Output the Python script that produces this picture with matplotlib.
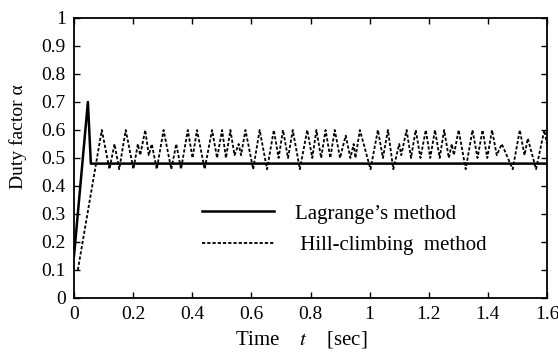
import numpy as np
import matplotlib
matplotlib.use("Agg")
import matplotlib.pyplot as plt
from matplotlib.ticker import FormatStrFormatter

plt.rcParams["font.family"] = ["Liberation Serif", "DejaVu Serif"]
plt.rcParams["mathtext.fontset"] = "stix"

# Lagrange's method (solid)
lag_t = [0.0, 0.047, 0.057, 1.60]
lag_v = [0.15, 0.70, 0.48, 0.48]

# Hill-climbing method (dotted)
hill_t = [0.013, 0.094, 0.120, 0.137, 0.153, 0.175, 0.201, 0.216, 0.224, 0.241,
          0.253, 0.263, 0.280, 0.303, 0.329, 0.346, 0.362, 0.385, 0.401, 0.416,
          0.442, 0.467, 0.484, 0.501, 0.514, 0.529, 0.543, 0.557, 0.565, 0.580,
          0.606, 0.628, 0.653, 0.676, 0.692, 0.707, 0.724, 0.740, 0.764, 0.789,
          0.806, 0.820, 0.836, 0.851, 0.867, 0.882, 0.900, 0.919, 0.935, 0.946,
          0.952, 0.967, 1.003, 1.028, 1.045, 1.062, 1.080, 1.100, 1.107, 1.125,
          1.140, 1.156, 1.172, 1.190, 1.205, 1.221, 1.237, 1.252, 1.268, 1.278,
          1.285, 1.301, 1.325, 1.348, 1.365, 1.382, 1.398, 1.414, 1.430, 1.447,
          1.484, 1.508, 1.524, 1.535, 1.563, 1.591, 1.600]
hill_v = [0.10, 0.60, 0.46, 0.55, 0.46, 0.60, 0.46, 0.55, 0.51, 0.60,
          0.51, 0.55, 0.46, 0.60, 0.46, 0.55, 0.46, 0.60, 0.50, 0.60,
          0.46, 0.60, 0.50, 0.60, 0.50, 0.60, 0.51, 0.55, 0.51, 0.60,
          0.46, 0.60, 0.46, 0.60, 0.50, 0.60, 0.50, 0.60, 0.46, 0.60,
          0.50, 0.60, 0.50, 0.60, 0.50, 0.60, 0.50, 0.58, 0.50, 0.55,
          0.50, 0.60, 0.46, 0.60, 0.50, 0.60, 0.46, 0.55, 0.51, 0.60,
          0.50, 0.60, 0.50, 0.60, 0.50, 0.60, 0.50, 0.60, 0.50, 0.55,
          0.51, 0.60, 0.46, 0.60, 0.50, 0.60, 0.50, 0.60, 0.51, 0.55,
          0.46, 0.60, 0.51, 0.57, 0.46, 0.60, 0.55]

xticks = np.arange(0, 1.61, 0.2)
yticks = np.arange(0, 1.01, 0.1)

fig = plt.figure(figsize=(5.58, 3.55), dpi=100)
ax = fig.add_axes([74 / 558, 57 / 355, 473 / 558, 280 / 355])

ax.plot(lag_t, lag_v, color="black", lw=1.8, label="Lagrange\u2019s method")
ax.plot(hill_t, hill_v, color="black", lw=1.3, linestyle=(0, (1.8, 1.1)),
        label=" Hill-climbing  method")

ax.set_xlim(0, 1.6)
ax.set_ylim(0, 1)
ax.set_xticks(xticks)
ax.set_yticks(yticks)
ax.xaxis.set_major_formatter(FormatStrFormatter("%g"))
ax.yaxis.set_major_formatter(FormatStrFormatter("%g"))
ax.tick_params(direction="in", top=True, right=True, length=4, width=1,
               labelsize=14, pad=6)
for s in ax.spines.values():
    s.set_linewidth(1.3)

fig.text(18 / 558, 1 - 137 / 355, "Duty factor \u03b1", fontsize=14,
         rotation=90, ha="center", va="center")
fig.text(301 / 558, 1 - 340 / 355, "Time    $t$    [sec]", fontsize=15,
         ha="center", va="center")

ax.legend(loc="upper left", bbox_to_anchor=(0.27, 0.335), frameon=False,
          fontsize=15, handlelength=3.45, handletextpad=1.05,
          labelspacing=0.55, borderpad=0, borderaxespad=0)

fig.savefig("out.png", dpi=100)
